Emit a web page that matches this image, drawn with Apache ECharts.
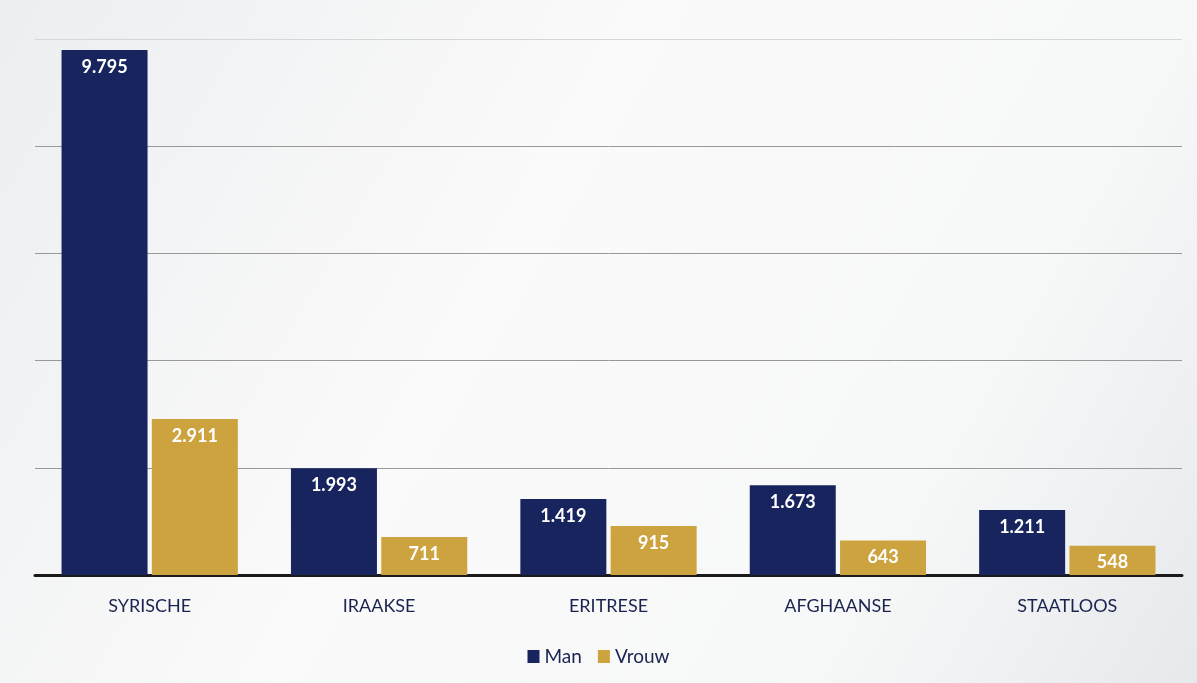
<!DOCTYPE html>
<html>
<head>
<meta charset="utf-8">
<script src="https://cdn.jsdelivr.net/npm/echarts@6/dist/echarts.min.js"></script>
<style>
html,body{margin:0;padding:0;background:#f3f4f5;}
#chart{width:1197px;height:683px;}
</style>
</head>
<body>
<div id="chart"></div>
<script>
const categories = ['SYRISCHE', 'IRAAKSE', 'ERITRESE', 'AFGHAANSE', 'STAATLOOS'];
const manValues = [9795, 1993, 1419, 1673, 1211];
const vrouwValues = [2911, 711, 915, 643, 548];
const seriesNames = ['Man', 'Vrouw'];

function fmt(v) {
  return String(v).replace(/\B(?=(\d{3})+(?!\d))/g, '.');
}

const chart = echarts.init(document.getElementById('chart'));
const labelStyle = {
  show: true,
  position: 'insideTop',
  distance: 8,
  color: '#ffffff',
  fontFamily: 'Lato',
  fontWeight: 'bold',
  fontSize: 18,
  formatter: p => fmt(p.value)
};
chart.setOption({
  backgroundColor: {
    type: 'linear', x: 0, y: 0, x2: 1, y2: 1,
    colorStops: [
      {offset: 0, color: '#eceef0'},
      {offset: 0.4, color: '#fafafa'},
      {offset: 0.75, color: '#f7f8f8'},
      {offset: 1, color: '#e6e9ec'}
    ]
  },
  animation: false,
  grid: {left: 35, right: 15, top: 39, bottom: 108},
  legend: {
    bottom: 12,
    left: 'center',
    itemWidth: 12,
    itemHeight: 13,
    itemGap: 16,
    icon: 'rect',
    textStyle: {fontFamily: 'Lato', fontSize: 19, color: '#1b2350'},
    data: seriesNames
  },
  xAxis: {
    type: 'category',
    data: categories,
    axisLine: {lineStyle: {color: '#1a1a1a', width: 3}},
    axisTick: {show: false},
    axisLabel: {fontFamily: 'Lato', fontSize: 18, color: '#1b2350', margin: 22}
  },
  yAxis: {
    type: 'value',
    min: 0, max: 10000, interval: 2000,
    axisLabel: {show: false},
    axisLine: {show: false},
    axisTick: {show: false},
    splitLine: {lineStyle: {color: ['#999999', '#999999', '#999999', '#999999', '#999999', '#d4d6d8'], width: 1}}
  },
  series: [
    {
      name: seriesNames[0], type: 'bar', data: manValues,
      barWidth: 86, barGap: '5%',
      itemStyle: {color: '#18245e'},
      label: labelStyle
    },
    {
      name: seriesNames[1], type: 'bar', data: vrouwValues,
      barWidth: 86,
      itemStyle: {color: '#cda33f'},
      label: labelStyle
    }
  ]
});
</script>
</body>
</html>
